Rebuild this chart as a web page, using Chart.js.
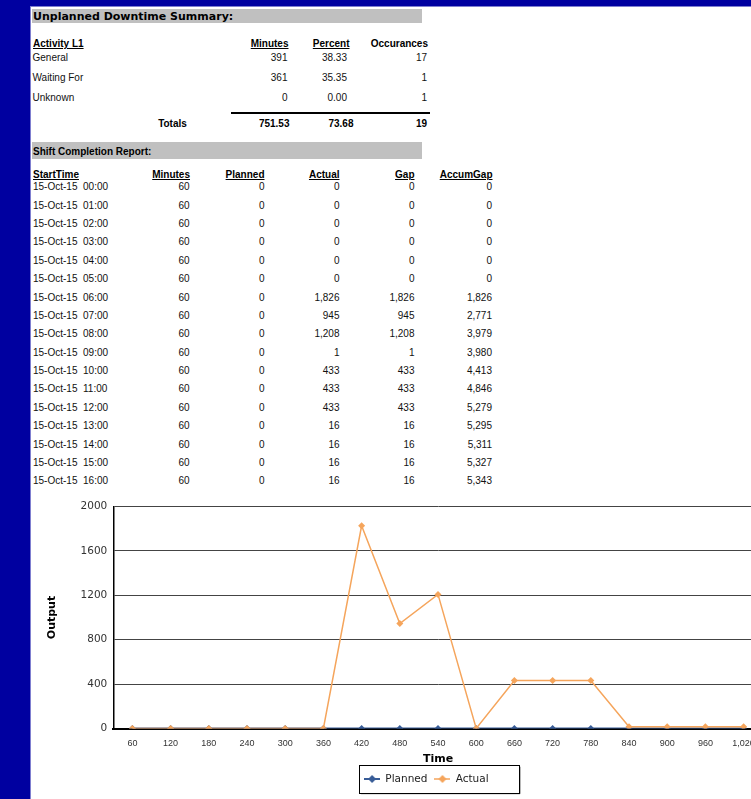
<!DOCTYPE html>
<html>
<head>
<meta charset="utf-8">
<title>Unplanned Downtime Summary</title>
<script src="https://cdn.jsdelivr.net/npm/chart.js@4/dist/chart.umd.min.js"></script>
<style>
    html, body { margin: 0; padding: 0; overflow: hidden; }
    body { width: 751px; height: 799px; background: #0000A0; position: relative; font-family: 'Liberation Sans', Arial, sans-serif; }
    .page { position: absolute; left: 30px; top: 6px; width: 721px; height: 793px; background: #fff; border-left: 1px solid #7f7fd0; border-top: 1px solid #7f7fd0; box-sizing: border-box; }
    .bar { position: absolute; left: 32px; width: 390px; background: #C0C0C0; }
    .t { position: absolute; height: 14px; line-height: 14px; font-size: 10px; color: #111; white-space: pre; }
    .b { font-weight: bold; color: #000; }
    .u { text-decoration: underline; }
    .title1 { font-family: 'DejaVu Sans', Verdana, sans-serif; font-size: 11px; font-weight: bold; color: #000; }
    #chart { position: absolute; left: 30px; top: 492px; }
</style>
</head>
<body>
<div class="page"></div>
<div class="bar" style="top:9px;height:14px"></div>
<div class="bar" style="top:142px;height:17px"></div>
<canvas id="chart" width="792" height="307" style="width:792px;height:307px"></canvas>

<script>
// Resumen de paradas no planificadas
const activities = ['General', 'Waiting For', 'Unknown'];
const activityMinutes = ['391', '361', '0'];
const activityPercent = ['38.33', '35.35', '0.00'];
const activityOccurances = ['17', '1', '1'];
const summaryTotals = ['751.53', '73.68', '19'];

// Reporte por turno (una fila por hora)
const startTimes = [
    '15-Oct-15  00:00', '15-Oct-15  01:00', '15-Oct-15  02:00', '15-Oct-15  03:00',
    '15-Oct-15  04:00', '15-Oct-15  05:00', '15-Oct-15  06:00', '15-Oct-15  07:00',
    '15-Oct-15  08:00', '15-Oct-15  09:00', '15-Oct-15  10:00', '15-Oct-15  11:00',
    '15-Oct-15  12:00', '15-Oct-15  13:00', '15-Oct-15  14:00', '15-Oct-15  15:00',
    '15-Oct-15  16:00'
];
const shiftMinutes = [60, 60, 60, 60, 60, 60, 60, 60, 60, 60, 60, 60, 60, 60, 60, 60, 60];
const planned = [0, 0, 0, 0, 0, 0, 0, 0, 0, 0, 0, 0, 0, 0, 0, 0, 0];
const actual = [0, 0, 0, 0, 0, 0, 1826, 945, 1208, 1, 433, 433, 433, 16, 16, 16, 16];
const gap = [0, 0, 0, 0, 0, 0, 1826, 945, 1208, 1, 433, 433, 433, 16, 16, 16, 16];
const accumGap = [0, 0, 0, 0, 0, 0, 1826, 2771, 3979, 3980, 4413, 4846, 5279, 5295, 5311, 5327, 5343];

// Etiquetas del eje X (minutos)
const timeLabels = ['60', '120', '180', '240', '300', '360', '420', '480', '540', '600',
    '660', '720', '780', '840', '900', '960', '1,020'];

class ReportRenderer {
    static addText(text, x, y, align, cls) {
        const d = document.createElement('div');
        d.className = 't ' + (cls || '');
        d.textContent = text;
        d.style.top = (y - 7) + 'px';
        if (align === 'r') {
            d.style.left = (x - 150) + 'px';
            d.style.width = '150px';
            d.style.textAlign = 'right';
        } else if (align === 'c') {
            d.style.left = (x - 75) + 'px';
            d.style.width = '150px';
            d.style.textAlign = 'center';
        } else {
            d.style.left = x + 'px';
        }
        document.body.appendChild(d);
        return d;
    }

    static renderSummary() {
        this.addText('Unplanned Downtime Summary:', 33, 16.5, 'l', 'title1');

        this.addText('Activity L1', 33, 44, 'l', 'b u');
        this.addText('Minutes', 288.5, 44, 'r', 'b u');
        this.addText('Percent', 349.5, 44, 'r', 'b u');
        this.addText('Occurances', 428, 44, 'r', 'b');

        const rowY = [57.8, 77.8, 97.8];
        activities.forEach((name, i) => {
            this.addText(name, 32.5, rowY[i], 'l');
            this.addText(activityMinutes[i], 287.5, rowY[i], 'r');
            this.addText(activityPercent[i], 347, rowY[i], 'r');
            this.addText(activityOccurances[i], 427, rowY[i], 'r');
        });

        // Línea de totales
        const line = document.createElement('div');
        line.style.cssText = 'position:absolute;left:231px;top:112px;width:199px;height:2px;background:#000';
        document.body.appendChild(line);

        this.addText('Totals', 172.5, 123.5, 'c', 'b');
        this.addText(summaryTotals[0], 289.5, 123.5, 'r', 'b');
        this.addText(summaryTotals[1], 353.5, 123.5, 'r', 'b');
        this.addText(summaryTotals[2], 427, 123.5, 'r', 'b');
    }

    static renderShift() {
        this.addText('Shift Completion Report:', 33, 152, 'l', 'b');

        const headY = 175.3;
        this.addText('StartTime', 33, headY, 'l', 'b u');
        this.addText('Minutes', 190, headY, 'r', 'b u');
        this.addText('Planned', 264.5, headY, 'r', 'b u');
        this.addText('Actual', 339.5, headY, 'r', 'b u');
        this.addText('Gap', 414.5, headY, 'r', 'b u');
        this.addText('AccumGap', 492.5, headY, 'r', 'b u');

        const fmt = v => v.toLocaleString('en-US');
        startTimes.forEach((st, i) => {
            const y = 187.2 + 18.39 * i;
            this.addText(st, 33, y, 'l');
            this.addText(fmt(shiftMinutes[i]), 189.5, y, 'r');
            this.addText(fmt(planned[i]), 264.5, y, 'r');
            this.addText(fmt(actual[i]), 339.5, y, 'r');
            this.addText(fmt(gap[i]), 414.5, y, 'r');
            this.addText(fmt(accumGap[i]), 492, y, 'r');
        });
    }

    // Icono de leyenda estilo Excel: línea con rombo
    static makeIcon(color, lineWidth) {
        const c = document.createElement('canvas');
        c.width = 16;
        c.height = 10;
        const g = c.getContext('2d');
        g.strokeStyle = color;
        g.lineWidth = lineWidth;
        g.beginPath();
        g.moveTo(0, 5);
        g.lineTo(16, 5);
        g.stroke();
        g.fillStyle = color;
        g.beginPath();
        g.moveTo(8, 1);
        g.lineTo(12, 5);
        g.lineTo(8, 9);
        g.lineTo(4, 5);
        g.closePath();
        g.fill();
        return c;
    }

    static renderChart() {
        const blue = '#385C97';
        const orange = '#F5A55C';
        const icons = [this.makeIcon(blue, 2), this.makeIcon(orange, 1.5)];

        // La leyenda de Excel no queda centrada en el lienzo: se desplaza un poco
        const legendShift = {
            id: 'legendShift',
            afterUpdate(chart) {
                const lg = chart.legend;
                const dx = 30;
                lg.left += dx;
                lg.right += dx;
                (lg.legendHitBoxes || []).forEach(b => { b.left += dx; });
            }
        };

        // Marco alrededor de la leyenda
        const legendBox = {
            id: 'legendBox',
            afterDraw(chart) {
                const boxes = chart.legend.legendHitBoxes;
                if (!boxes || !boxes.length) return;
                const left = Math.min(...boxes.map(b => b.left)) - 5;
                const right = Math.max(...boxes.map(b => b.left + b.width)) + 30;
                const top = boxes[0].top - 9;
                const bottom = boxes[0].top + boxes[0].height + 8;
                const ctx = chart.ctx;
                ctx.save();
                ctx.strokeStyle = '#888';
                ctx.lineWidth = 1;
                ctx.beginPath();
                ctx.moveTo(left + 2, bottom + 1.5);
                ctx.lineTo(right + 1.5, bottom + 1.5);
                ctx.lineTo(right + 1.5, top + 2);
                ctx.stroke();
                ctx.strokeStyle = '#000';
                ctx.strokeRect(Math.round(left) + 0.5, Math.round(top) + 0.5, Math.round(right - left), Math.round(bottom - top));
                ctx.restore();
            }
        };

        const ctx = document.getElementById('chart').getContext('2d');
        new Chart(ctx, {
            type: 'line',
            data: {
                labels: timeLabels,
                datasets: [{
                    label: 'Planned',
                    data: planned,
                    borderColor: blue,
                    backgroundColor: blue,
                    borderWidth: 2,
                    pointStyle: 'rectRot',
                    pointRadius: 3.5,
                    pointBorderWidth: 0,
                    tension: 0,
                    order: 1
                }, {
                    label: 'Actual',
                    data: actual,
                    borderColor: orange,
                    backgroundColor: orange,
                    borderWidth: 1.5,
                    pointStyle: 'rectRot',
                    pointRadius: 3.5,
                    pointBorderWidth: 0,
                    tension: 0,
                    order: 0
                }]
            },
            options: {
                responsive: false,
                animation: false,
                layout: { padding: { left: 0, top: 14.5, right: 59.3, bottom: 4.75 } },
                scales: {
                    x: {
                        offset: true,
                        grid: { display: false, drawTicks: false },
                        border: { color: '#000', width: 2 },
                        ticks: {
                            font: { family: 'Liberation Sans', size: 9 },
                            color: '#333',
                            padding: 9.5,
                            maxRotation: 0,
                            autoSkip: false
                        },
                        title: {
                            display: true,
                            text: 'Time',
                            color: '#000',
                            font: { family: 'DejaVu Sans', size: 11, weight: 'bold' },
                            padding: { top: 0, bottom: 1.5 }
                        },
                        afterFit: s => { s.height = 38.25; }
                    },
                    y: {
                        min: 0,
                        max: 2000,
                        grid: { color: '#444', lineWidth: 1, drawTicks: false },
                        border: { color: '#000', width: 1.5 },
                        ticks: {
                            stepSize: 400,
                            font: { family: 'DejaVu Sans', size: 10.5 },
                            color: '#333',
                            padding: 6,
                            callback: v => String(v)
                        },
                        title: {
                            display: true,
                            text: 'Output',
                            color: '#000',
                            font: { family: 'DejaVu Sans', size: 11, weight: 'bold' },
                            padding: { top: 16, bottom: 0 }
                        },
                        afterFit: s => { s.width = 83.3; }
                    }
                },
                plugins: {
                    tooltip: { enabled: false },
                    legend: {
                        position: 'bottom',
                        labels: {
                            usePointStyle: true,
                            pointStyleWidth: 16,
                            padding: 7,
                            color: '#222',
                            font: { family: 'DejaVu Sans', size: 10.5 },
                            generateLabels: chart => Chart.defaults.plugins.legend.labels.generateLabels(chart)
                                .map(l => Object.assign(l, { pointStyle: icons[l.datasetIndex] })),
                            sort: (a, b) => a.datasetIndex - b.datasetIndex
                        }
                    }
                }
            },
            plugins: [legendShift, legendBox]
        });
    }
}

ReportRenderer.renderSummary();
ReportRenderer.renderShift();
ReportRenderer.renderChart();
</script>
</body>
</html>
